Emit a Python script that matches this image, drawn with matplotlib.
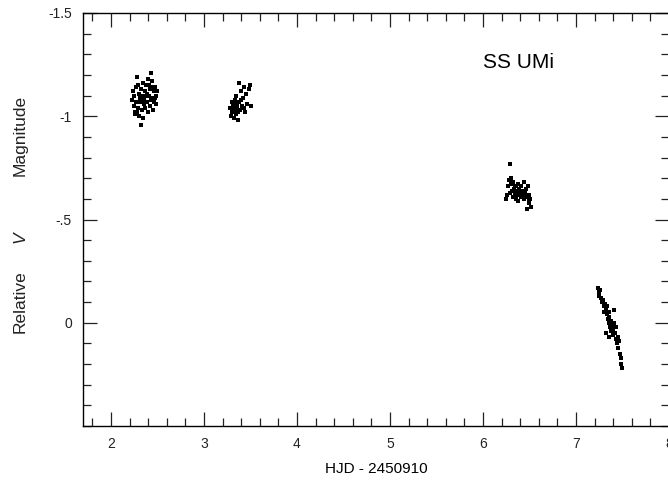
import matplotlib
matplotlib.use("Agg")
import matplotlib.pyplot as plt
from matplotlib.ticker import MultipleLocator, FixedLocator, FixedFormatter

plt.rcParams['font.family'] = ['Liberation Sans', 'DejaVu Sans']

# night 1
c1_x = [2.23, 2.24, 2.25, 2.25, 2.26, 2.27, 2.27, 2.28, 2.29, 2.30, 2.30, 2.31, 2.32, 2.32,
        2.33, 2.34, 2.35, 2.35, 2.36, 2.37, 2.37, 2.38, 2.39, 2.40, 2.40, 2.41, 2.42, 2.42,
        2.43, 2.44, 2.44, 2.45, 2.46, 2.46, 2.47, 2.48, 2.49, 2.50, 2.26, 2.29, 2.33, 2.36,
        2.39, 2.43, 2.45, 2.28, 2.31, 2.38, 2.41, 2.47]
c1_y = [-1.08, -1.12, -1.05, -1.10, -1.02, -1.14, -1.07, -1.19, -1.04, -1.11, -1.00, -1.09,
        -1.13, -0.96, -1.03, -1.16, -1.10, -0.99, -1.08, -1.12, -1.04, -1.15, -1.07, -1.18,
        -1.02, -1.10, -1.13, -1.05, -1.21, -1.09, -1.17, -1.03, -1.12, -1.07, -1.14, -1.10,
        -1.06, -1.12, -1.01, -1.15, -1.09, -1.06, -1.11, -1.08, -1.14, -1.02, -1.07, -1.10,
        -1.15, -1.09]

# night 2
c2_x = [3.28, 3.29, 3.30, 3.30, 3.31, 3.32, 3.33, 3.33, 3.34, 3.35, 3.35, 3.36, 3.37, 3.38,
        3.38, 3.39, 3.40, 3.41, 3.42, 3.43, 3.44, 3.45, 3.46, 3.48, 3.50, 3.51, 3.31, 3.34,
        3.37, 3.40, 3.43, 3.36]
c2_y = [-1.04, -1.00, -1.07, -1.02, -1.05, -0.99, -1.08, -1.03, -1.06, -1.01, -1.10, -1.04,
        -0.98, -1.16, -1.07, -1.03, -1.12, -1.05, -1.09, -1.14, -1.02, -1.11, -1.06, -1.13,
        -1.15, -1.05, -1.03, -1.05, -1.02, -1.08, -1.04, -1.06]

# night 3
c3_x = [6.25, 6.26, 6.27, 6.28, 6.29, 6.29, 6.30, 6.31, 6.32, 6.32, 6.33, 6.34, 6.35, 6.35,
        6.36, 6.37, 6.38, 6.38, 6.39, 6.40, 6.41, 6.41, 6.42, 6.43, 6.44, 6.44, 6.45, 6.46,
        6.47, 6.48, 6.49, 6.50, 6.51, 6.52, 6.30, 6.34, 6.39, 6.43, 6.47, 6.50]
c3_y = [-0.60, -0.62, -0.66, -0.69, -0.77, -0.63, -0.67, -0.64, -0.61, -0.68, -0.65, -0.63,
        -0.66, -0.60, -0.64, -0.62, -0.67, -0.59, -0.65, -0.63, -0.61, -0.66, -0.64, -0.62,
        -0.68, -0.60, -0.63, -0.65, -0.61, -0.66, -0.58, -0.62, -0.60, -0.56, -0.70, -0.66,
        -0.62, -0.64, -0.55, -0.59]

# night 4
c4_x = [7.24, 7.25, 7.25, 7.26, 7.27, 7.28, 7.29, 7.30, 7.30, 7.31, 7.32, 7.33, 7.33, 7.34,
        7.35, 7.35, 7.36, 7.37, 7.38, 7.38, 7.39, 7.40, 7.40, 7.41, 7.42, 7.43, 7.43, 7.44,
        7.45, 7.45, 7.46, 7.47, 7.48, 7.48, 7.49, 7.32, 7.36, 7.41]
c4_y = [-0.17, -0.15, -0.13, -0.16, -0.12, -0.10, -0.11, -0.08, -0.05, -0.09, -0.06, -0.04,
        -0.08, -0.02, -0.05, 0.00, -0.03, 0.02, -0.01, 0.04, 0.01, 0.03, 0.06, 0.00, 0.05,
        0.08, 0.02, 0.10, 0.07, 0.12, 0.09, 0.15, 0.17, 0.20, 0.22, 0.05, 0.07, -0.06]

x_ticks = [2, 3, 4, 5, 6, 7, 8]
y_ticks = [-1.5, -1.0, -0.5, 0.0]
y_labels = ["-1.5", "-1", "-.5", "0"]

fig = plt.figure(figsize=(6.68, 4.82), dpi=100)
ax = fig.add_axes([83 / 668, 56 / 482, 586 / 668, 413 / 482])

for xs, ys in [(c1_x, c1_y), (c2_x, c2_y), (c3_x, c3_y), (c4_x, c4_y)]:
    ax.plot(xs, ys, 's', color='black', markersize=3.1, markeredgewidth=0)

ax.set_xlim(1.7, 8.0)
ax.set_ylim(0.5, -1.5)

ax.xaxis.set_major_locator(FixedLocator(x_ticks))
ax.xaxis.set_minor_locator(MultipleLocator(0.2))
ax.yaxis.set_major_locator(FixedLocator(y_ticks))
ax.yaxis.set_major_formatter(FixedFormatter(y_labels))
ax.yaxis.set_minor_locator(MultipleLocator(0.1))

ax.tick_params(which='both', direction='in', top=True, right=True, width=0.9,
               colors='#222222', labelsize=10)
ax.tick_params(which='major', length=10, pad=8)
ax.tick_params(which='minor', length=5.5)
for s in ax.spines.values():
    s.set_linewidth(1.0)

ax.set_xlabel("HJD - 2450910", fontsize=11, labelpad=8)

# y label drawn in three pieces to match the uneven spacing
fig.text(20 / 668, 1 - 302 / 482, "Relative", rotation=90, ha='center', va='center',
         fontsize=12.5, color='#222222')
fig.text(20 / 668, 1 - 237 / 482, "V", rotation=90, ha='center', va='center',
         fontsize=12.5, style='italic', color='#222222')
fig.text(20 / 668, 1 - 135 / 482, "Magnitude", rotation=90, ha='center', va='center',
         fontsize=12.5, color='#222222')

ax.text(6.0, -1.236, "SS UMi", fontsize=15)

fig.savefig("out.png", dpi=100)
